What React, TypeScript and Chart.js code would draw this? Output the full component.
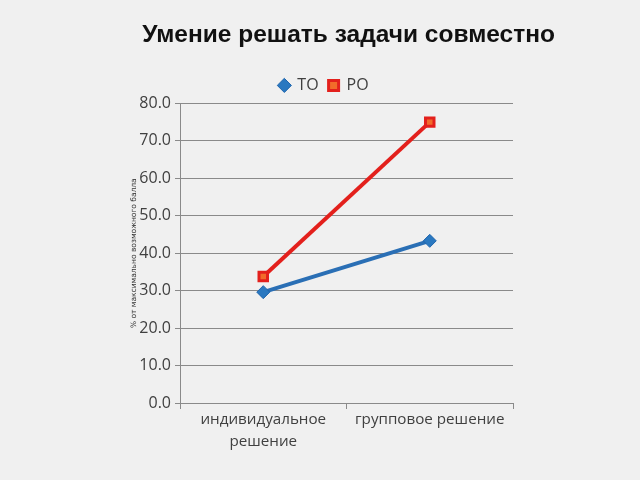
import React, { useEffect, useRef } from "react";
import { Chart, registerables } from "chart.js";

Chart.register(...registerables);

const titleText = "Умение решать задачи совместно";
const yAxisTitle = "% от максимально возможного балла";
const categories: (string | string[])[] = [["индивидуальное", "решение"], "групповое решение"];
const seriesNames = ["ТО", "РО"];
const toValues = [29.6, 43.3];
const roValues = [33.8, 75.0];
const yMin = 0;
const yMax = 80;
const yStep = 10;

export default function App() {
  const ref = useRef<HTMLCanvasElement | null>(null);
  useEffect(() => {
    if (!ref.current) return;
    const textColor = "#404040";
    const chart = new Chart(ref.current, {
      type: "line",
      data: {
        labels: categories,
        datasets: [
          {
            label: seriesNames[0],
            data: toValues,
            borderColor: "#2a6fb5",
            backgroundColor: "#2a6fb5",
            borderWidth: 4,
            pointStyle: "rectRot",
            pointRadius: 6.5,
            pointBorderColor: "#1f65ad",
            pointBackgroundColor: "#2a78c0",
            pointBorderWidth: 1,
            tension: 0,
          },
          {
            label: seriesNames[1],
            data: roValues,
            borderColor: "#e3201c",
            backgroundColor: "#e3201c",
            borderWidth: 4,
            pointStyle: "rect",
            pointRadius: 6,
            pointBorderColor: "#e3201c",
            pointBackgroundColor: "#f26b2a",
            pointBorderWidth: 3,
            tension: 0,
          },
        ],
      },
      options: {
        animation: false,
        responsive: false,
        maintainAspectRatio: false,
        layout: { padding: { left: 93, right: 85, top: 0, bottom: 0 } },
        plugins: {
          title: {
            display: true,
            text: titleText,
            align: "end",
            color: "#111111",
            font: { family: "'Liberation Sans', Arial, sans-serif", size: 24.5, weight: "bold", lineHeight: 1.2 },
            padding: { top: 21, bottom: 17 },
          },
          legend: {
            display: true,
            labels: {
              usePointStyle: true,
              boxWidth: 10,
              boxHeight: 10,
              padding: 10,
              color: textColor,
              font: { family: "'Open Sans', sans-serif", size: 16 },
            },
          },
          tooltip: { enabled: false },
        },
        scales: {
          x: {
            offset: true,
            grid: { display: true, drawOnChartArea: false, offset: true, tickLength: 6, color: "#8a8a8a" },
            border: { display: true, color: "#8a8a8a" },
            ticks: {
              color: textColor,
              font: { family: "'Open Sans', sans-serif", size: 15.2, lineHeight: 1.45 },
              maxRotation: 0,
              padding: 0,
            },
            afterFit: (s: any) => {
              s.height = 77;
            },
          },
          y: {
            min: yMin,
            max: yMax,
            ticks: {
              stepSize: yStep,
              color: textColor,
              font: { family: "'Open Sans', sans-serif", size: 16 },
              padding: 4,
              callback: (v: any) => Number(v).toFixed(1),
            },
            grid: { color: "#8a8a8a", tickLength: 5 },
            border: { display: true, color: "#8a8a8a" },
            title: {
              display: true,
              text: yAxisTitle,
              color: "#333333",
              font: { family: "'DejaVu Sans', sans-serif", size: 7.5 },
              padding: { top: 37, bottom: 0 },
            },
            afterFit: (s: any) => {
              s.width = 87;
            },
          },
          yR: {
            position: "right",
            display: true,
            min: yMin,
            max: yMax,
            grid: { display: false, drawOnChartArea: false },
            ticks: { display: false },
            border: { display: false },
            afterFit: (s: any) => {
              s.width = 42;
            },
          },
        },
      },
    } as any);
    return () => chart.destroy();
  }, []);
  return (
    <div style={{ position: "fixed", left: 0, top: 0, width: 640, height: 480, background: "#f0f0f0" }}>
      <canvas ref={ref} width={640} height={480} style={{ width: 640, height: 480, display: "block" }} />
    </div>
  );
}
